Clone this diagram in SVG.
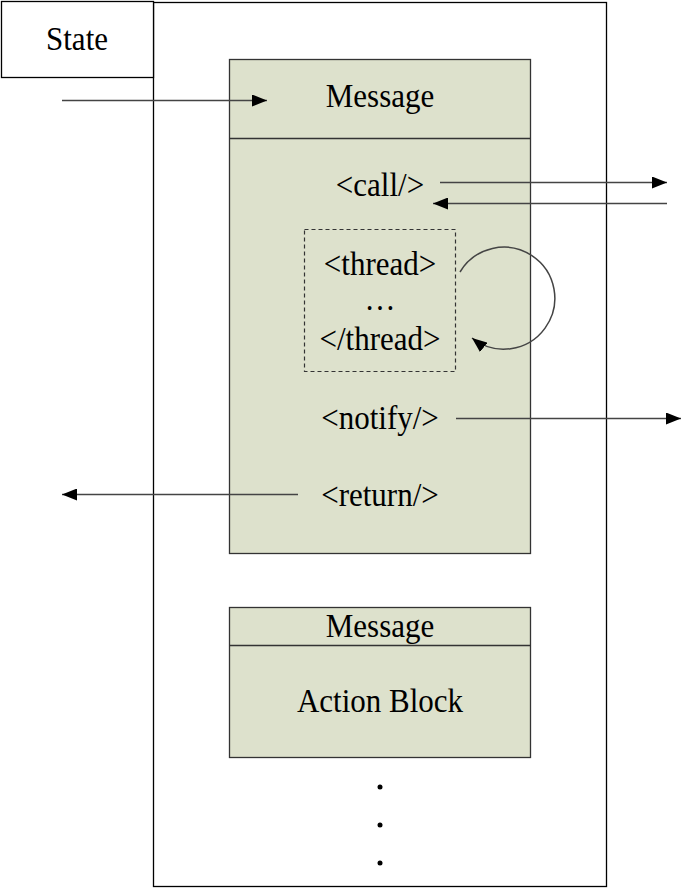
<svg xmlns="http://www.w3.org/2000/svg" width="681" height="888" viewBox="0 0 681 888">
<style>
.t{font-family:"Liberation Serif","Times New Roman",serif;font-size:31px;fill:#000;text-anchor:middle}
.box{fill:#dde1cc;stroke:#333;stroke-width:1.3}
.ln{fill:none;stroke:#444;stroke-width:1.5}
</style>
<defs>
<marker id="ah" viewBox="0 0 15 12" refX="15" refY="6" markerWidth="15" markerHeight="12" markerUnits="userSpaceOnUse" orient="auto">
<path d="M0,0 L15,6 L0,12 Z" fill="#000"/>
</marker>
</defs>
<rect width="681" height="888" fill="#fff"/>
<g id="container"><rect x="153.5" y="2.5" width="453" height="884" fill="none" stroke="#000" stroke-width="1.3"/></g>
<g id="state"><rect x="1.5" y="1.5" width="152" height="76" fill="#fff" stroke="#000" stroke-width="1.3"/><text class="t" transform="translate(77,50) scale(1,1.12)">State</text></g>
<g id="message1">
<rect class="box" x="229.5" y="59.5" width="301" height="494"/>
<line x1="229.5" y1="138.5" x2="530.5" y2="138.5" stroke="#333" stroke-width="1.3"/>
<text class="t" transform="translate(380,107) scale(1,1.12)">Message</text>
<text class="t" transform="translate(380,196) scale(1,1.12)">&lt;call/&gt;</text>
<text class="t" transform="translate(380,429) scale(1,1.12)">&lt;notify/&gt;</text>
<text class="t" transform="translate(380,506) scale(1,1.12)">&lt;return/&gt;</text>
</g>
<g id="thread">
<rect x="304.5" y="229.5" width="151" height="142" fill="none" stroke="#333" stroke-width="1.2" stroke-dasharray="4,3"/>
<text class="t" transform="translate(380,275) scale(1,1.12)">&lt;thread&gt;</text>
<text class="t" transform="translate(380,310) scale(1,1.12)">…</text>
<text class="t" transform="translate(380,350) scale(1,1.12)">&lt;/thread&gt;</text>
</g>
<g id="message2">
<rect class="box" x="229.5" y="607.5" width="301" height="150"/>
<line x1="229.5" y1="645.5" x2="530.5" y2="645.5" stroke="#333" stroke-width="1.3"/>
<text class="t" transform="translate(380,637) scale(1,1.12)">Message</text>
<text class="t" transform="translate(380,712) scale(1,1.12)">Action Block</text>
</g>
<g id="dots" fill="#000">
<circle cx="380" cy="787" r="2.5"/><circle cx="380" cy="825" r="2.5"/><circle cx="380" cy="863" r="2.5"/>
</g>
<g id="connectors">
<line class="ln" x1="62" y1="100.5" x2="267" y2="100.5" marker-end="url(#ah)"/>
<line class="ln" x1="440" y1="182.5" x2="667" y2="182.5" marker-end="url(#ah)"/>
<line class="ln" x1="667" y1="203.5" x2="433" y2="203.5" marker-end="url(#ah)"/>
<path class="ln" d="M460,272 A51,51 0 1 1 472,338" marker-end="url(#ah)"/>
<line class="ln" x1="456" y1="418.5" x2="681" y2="418.5" marker-end="url(#ah)"/>
<line class="ln" x1="298" y1="494.5" x2="62" y2="494.5" marker-end="url(#ah)"/>
</g>
</svg>
